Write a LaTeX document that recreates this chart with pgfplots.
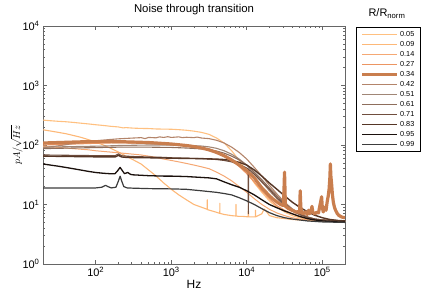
\documentclass[border=0pt]{standalone}
\usepackage{pgfplots}
\pgfplotsset{compat=1.18}
\usepackage{fontspec}
\setmainfont{Liberation Sans}
\definecolor{cA}{HTML}{FFC080}
\definecolor{cB}{HTML}{FDB878}
\definecolor{cC}{HTML}{F5A874}
\definecolor{cD}{HTML}{EC9562}
\definecolor{cE}{HTML}{C97E4E}
\definecolor{cF}{HTML}{B3846A}
\definecolor{cG}{HTML}{A08676}
\definecolor{cH}{HTML}{8E6E5C}
\definecolor{cI}{HTML}{704E3E}
\definecolor{cJ}{HTML}{553626}
\definecolor{cK}{HTML}{1A100C}
\definecolor{cL}{HTML}{3C3C3C}
\begin{document}
\begin{tikzpicture}
\useasboundingbox (0bp,0bp) rectangle (425bp,300bp);
\begin{axis}[
  at={(43bp,36bp)}, anchor=south west,
  scale only axis, width=302bp, height=238bp,
  xmode=log, ymode=log,
  xmin=20, xmax=200000, ymin=1, ymax=10000,
  xtick={100,1000,10000,100000},
  xticklabels={10\textsuperscript{2},10\textsuperscript{3},10\textsuperscript{4},10\textsuperscript{5}},
  ytick={1,10,100,1000,10000},
  yticklabels={10\textsuperscript{0},10\textsuperscript{1},10\textsuperscript{2},10\textsuperscript{3},10\textsuperscript{4}},
  tick label style={font=\fontsize{11}{12}\selectfont},
  axis line style={draw=black!60, line width=1bp},
  every tick/.style={draw=black!60, line width=0.6bp},
  major tick length=4bp, minor tick length=2bp,
  tick align=inside,
  title={Noise through transition},
  title style={font=\fontsize{11.4}{13}\selectfont, at={(0.5,1)}, anchor=south, yshift=2bp},
  xlabel={Hz},
  xlabel style={font=\fontsize{12}{13}\selectfont, yshift=4bp},
  ylabel={$pA/\sqrt{Hz}$},
  ylabel style={font=\fontsize{10}{11}\selectfont, yshift=-7bp},
  legend style={at={(1.036,0.996)}, anchor=north west, draw=black, line width=0.8bp,
     font=\fontsize{7.3}{8}\selectfont, row sep=0.6bp, inner xsep=4.5bp, inner ysep=2.5bp,
     nodes={inner sep=1.4bp}, cells={anchor=west}},
  legend image code/.code={\draw[#1] (0bp,0bp) -- (35bp,0bp);},
  every axis plot/.append style={line join=round},
  clip=true,
]
\addlegendimage{cA, line width=1.3bp}
\addlegendentry{0.05}
\addlegendimage{cB, line width=1.1bp}
\addlegendentry{0.09}
\addlegendimage{cC, line width=0.9bp}
\addlegendentry{0.14}
\addlegendimage{cD, line width=0.9bp}
\addlegendentry{0.27}
\addlegendimage{cE, line width=3bp}
\addlegendentry{0.34}
\addlegendimage{cF, line width=0.9bp}
\addlegendentry{0.42}
\addlegendimage{cG, line width=1.2bp}
\addlegendentry{0.51}
\addlegendimage{cH, line width=1.2bp}
\addlegendentry{0.61}
\addlegendimage{cI, line width=0.9bp}
\addlegendentry{0.71}
\addlegendimage{cJ, line width=0.9bp}
\addlegendentry{0.83}
\addlegendimage{cK, line width=0.9bp}
\addlegendentry{0.95}
\addlegendimage{cL, line width=0.9bp}
\addlegendentry{0.99}

% 0.05
\addplot[cA, line width=1.1bp, forget plot] table {
20 262
25 256
32 250
40 246
50 240
63 233
80 226
100 219
126 213
158 206
200 201
230 194
251 196
316 192
398 190
501 189
631 186
794 185
1000 184
1259 181
1585 177
1995 171
2512 163
3162 151
3981 131
5012 108
6310 80
7943 55
10000 36
12589 23
15849 16
19953 11.5
25119 9
31623 7.5
39811 6.5
50119 6
63096 5.6
79433 5.4
100000 5.3
125893 5.2
158489 5.2
200000 5.1
};
% 0.09
\addplot[cB, line width=1.1bp, forget plot] table {
20 180
25 172
32 163
40 155
50 145
63 135
80 123
100 112
126 100
158 88
200 76
251 65
316 56
398 48
501 38
631 30
794 23
1000 18
1259 14.5
1585 12
1995 10
2512 9
2990 8.3
3000 12
3010 8.2
3981 7.4
4390 7.1
4400 10.5
4410 7.1
5012 6.8
6310 6.5
7190 6.4
7200 10
7210 6.4
7943 6.3
9000 6.3
10450 6.2
10500 9.5
10550 6.2
12589 6.2
13000 6.2
13050 8
13100 6.2
15849 7
17000 8.4
18500 7.4
19953 6.5
25119 6
31623 5.8
39811 5.6
50119 5.5
63096 5.4
79433 5.3
100000 5.3
125893 5.3
158489 5.2
200000 5.2
};
% 0.14
\addplot[cC, line width=1bp, forget plot] table {
20 95
25 93
32 91
40 89
50 87
63 85
80 83
100 80
126 78
158 76
200 74
251 72
316 70
398 68
501 65
631 62
794 58
1000 55
1259 52
1585 49
1995 46
2512 43
3162 40
3981 35
5012 30
6310 25
7943 20
10000 16
12589 12.5
15849 10
19953 8.3
25119 7.2
31623 6.5
39811 6
50119 5.7
63096 5.5
79433 5.4
100000 5.3
200000 5.2
};
% 0.27
\addplot[cD, line width=1.2bp, forget plot] table {
20 100
32 102
50 104
80 106
126 108
200 109
316 108
501 106
794 103
1000 101
1585 97
2512 90
3162 85
3981 78
5012 68
6310 56
7943 44
10000 33
12589 24
15849 17
19953 12.5
25119 9.5
31623 8
39811 7
50119 6.3
63096 5.9
79433 5.6
100000 5.5
125893 5.4
158489 5.3
200000 5.3
};
% 0.42
\addplot[cF, line width=1.1bp, forget plot] table {
20 90
25 93
32 97
40 101
50 106
63 110
80 114
100 118
126 121
158 124
200 127
251 129
316 131
398 133
450 128
501 134
631 132
700 137
794 134
900 138
1000 134
1259 137
1400 133
1585 135
1995 133
2200 136
2512 131
3162 128
3981 120
5012 108
6310 92
7943 75
10000 58
12589 42
15849 30
19953 21
25119 15
31623 11
39811 8.5
50119 7
63096 6.2
79433 5.7
100000 5.5
125893 5.4
158489 5.3
200000 5.3
};
% 0.51
\addplot[cG, line width=1.1bp, forget plot] table {
20 92
32 93
50 94
80 95
126 96
200 98
316 99
501 100
794 100
1000 100
1585 99
2512 96
3162 93
3981 88
5012 80
6310 70
7943 58
10000 46
12589 34
15849 24
19953 17
25119 12.5
31623 9.5
39811 7.8
50119 6.7
63096 6
79433 5.6
100000 5.4
200000 5.3
};
% 0.61
\addplot[cH, line width=1.1bp, forget plot] table {
20 87
32 88
50 89
80 90
126 91
200 92
316 92
501 92
1000 91
1585 89
2512 86
3162 83
3981 79
5012 73
6310 65
7943 56
10000 46
12589 35
15849 26
19953 19
25119 14
31623 10.5
39811 8.3
50119 7
63096 6.2
79433 5.7
100000 5.5
200000 5.3
};
% 0.71
\addplot[cI, line width=1.1bp, forget plot] table {
20 68
32 67.5
50 67
80 66.5
126 66
180 66
200 71
220 66
251 65
316 64
501 63
794 62
1000 61
1585 60
2512 59
3162 58
3981 57
5012 55
6310 52
7943 47
10000 41
10400 40
10500 7
10600 39
12589 32
15849 24
19953 18
25119 13
31623 10
39811 8
50119 6.8
63096 6.1
79433 5.7
100000 5.5
200000 5.3
};
% 0.83
\addplot[cJ, line width=1.4bp, forget plot] table {
20 65
32 64.5
50 64
80 63.5
126 63
180 63
200 67
220 63
251 62
316 61.5
501 61
794 60.5
1000 60
1585 59.5
2512 59
3162 58.5
3981 58
5012 57
6310 55
7943 51
10000 46
12589 38
15849 30
19953 23
25119 18
31623 14
39811 11
50119 9
63096 7.6
79433 6.6
100000 6
125893 5.6
158489 5.4
200000 5.3
};
% 0.95
\addplot[cK, line width=1.3bp, forget plot] table {
20 48
25 46
32 44
40 42
50 40
63 38
80 36
100 34.5
126 33.5
150 33
180 33
195 37
210 42
225 37
240 33
265 34.5
290 32
316 31.5
398 31
501 30.5
794 30
1000 30
1585 29.5
2512 28.5
3162 28
3981 27
5012 24
6310 21.5
7943 19.5
10000 17
12589 14.5
15849 12
19953 10
25119 8.8
31623 7.8
39811 7
50119 6.3
63096 5.8
79433 5.5
100000 5.3
125893 5.2
158489 5.1
200000 5.1
};
% 0.99
\addplot[cL, line width=1.2bp, forget plot] table {
20 19
40 19
63 19
100 19
120 19.5
135 21
145 20
160 19
185 19.5
200 25
210 30
220 25
235 20
260 19
316 18.8
501 18.5
1000 18.3
1585 18
2512 17
3162 16.5
3981 16
5012 15.3
6310 14.5
7943 13
10000 11.5
12589 10
15849 8.5
19953 7.3
25119 6.5
31623 6
39811 5.7
50119 5.5
63096 5.3
100000 5.1
200000 5
};
% 0.34 thick (drawn last)
\addplot[cE, line width=3.2bp, forget plot] table {
20 108
25 109
32 110
40 111
50 112
63 113
80 114
100 114
126 114
158 114
200 113
251 113
316 112
398 111
501 110
631 108
794 106
1000 104
1259 101
1585 98
1995 94
2512 89
3162 83
3981 75
5012 66
6310 56
7943 46
10000 37
12589 28
15849 19
19953 14
22000 12.5
25119 11
28000 10
30500 9.6
31200 20
31623 35
32000 20
32500 9.3
35481 8.6
39811 8
42000 7.8
44668 7.4
47000 7.6
50119 7.2
51000 17
52000 9
54000 7.2
56234 7
60000 7.5
63096 6.8
66000 8
68000 7
70795 7.6
73000 9.3
75000 7.4
79433 6.9
84000 7.4
89125 7.2
92000 9
95000 11
98000 13.5
100000 9
103000 7.5
108000 9
112202 8
116000 11
120000 14
123000 18
126000 28
128000 48
130000 30
133000 22
136000 15
140000 11
145000 9
150000 8
158489 7
165000 6.6
175000 6.3
185000 6.1
200000 6
};
\end{axis}
\node[font=\fontsize{11}{12}\selectfont, anchor=base] at (387bp,283bp) {R/R\textsubscript{norm}};
\end{tikzpicture}
\end{document}
